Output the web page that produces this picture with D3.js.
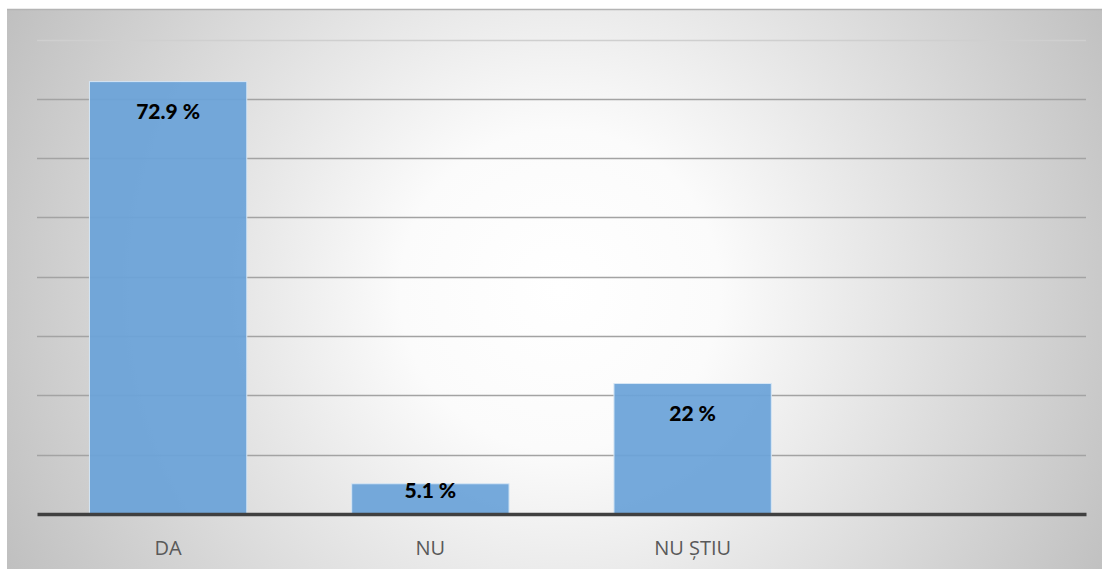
<!DOCTYPE html>
<html><head><meta charset="utf-8">
<script src="https://cdn.jsdelivr.net/npm/d3@7"></script>
<style>html,body{margin:0;padding:0;background:#fff;overflow:hidden}</style>
</head><body>
<svg id="c" width="1102" height="569"></svg>
<script>
const categories = ["DA", "NU", "NU ȘTIU", ""];
const values = [72.9, 5.1, 22, null];
const valueLabels = ["72.9 %", "5.1 %", "22 %", ""];
const yTicks = [0, 10, 20, 30, 40, 50, 60, 70, 80];

(function(){
const svg = d3.select("#c");
const defs = svg.append("defs");
const rg = defs.append("radialGradient").attr("id","bg")
  .attr("gradientUnits","userSpaceOnUse")
  .attr("cx",560).attr("cy",290).attr("r",640);
rg.append("stop").attr("offset","0%").attr("stop-color","#ffffff");
rg.append("stop").attr("offset","25%").attr("stop-color","#fbfbfb");
rg.append("stop").attr("offset","100%").attr("stop-color","#bdbdbd");

svg.append("rect").attr("x",7).attr("y",9).attr("width",1095).attr("height",560).attr("fill","url(#bg)");
svg.append("line").attr("x1",7).attr("x2",1102).attr("y1",9.5).attr("y2",9.5).attr("stroke","#b4b4b4").attr("stroke-width",1.5);

const pL = 37, pR = 1086, pT = 39.5, pB = 514;
const x = d3.scaleBand().domain(categories).range([pL, pR]).paddingInner(0.4).paddingOuter(0.2);
const y = d3.scaleLinear().domain([0, 80]).range([pB, pT]);

// gridlines
svg.append("g").selectAll("line").data(yTicks.slice(1)).join("line")
  .attr("x1", pL).attr("x2", pR)
  .attr("y1", d => Math.round(y(d)) + 0.5).attr("y2", d => Math.round(y(d)) + 0.5)
  .attr("stroke", d => d === 80 ? "#cfcfcf" : "#a3a3a3").attr("stroke-width", 1.5);

// bars
const data = categories.map((c,i)=>({c, v: values[i], l: valueLabels[i]})).filter(d => d.v != null);
svg.append("g").selectAll("rect").data(data).join("rect")
  .attr("x", d => x(d.c)).attr("width", x.bandwidth())
  .attr("y", d => y(d.v)).attr("height", d => y(0) - y(d.v))
  .attr("fill", "#6aa2d8").attr("fill-opacity", 0.93)
  .attr("stroke", "#d6e6f5").attr("stroke-width", 1);

// baseline axis
const xAxis = d3.axisBottom(x).tickSize(0).tickPadding(0);
const ax = svg.append("g").attr("transform", `translate(0,${pB})`).call(xAxis);
ax.select(".domain").attr("stroke", "#404040").attr("stroke-width", 3.5);
ax.selectAll("text").attr("dy", null).attr("y", 41)
  .attr("font-family", "'Open Sans', sans-serif").attr("font-size", 20).attr("fill", "#595959");

// value labels
svg.append("g").selectAll("text").data(data).join("text")
  .attr("x", d => x(d.c) + x.bandwidth()/2)
  .attr("y", d => Math.min(y(d.v) + 37, pB - 16))
  .attr("text-anchor", "middle")
  .attr("font-family", "Lato, 'Open Sans', sans-serif").attr("font-weight", "900")
  .attr("font-size", 21).attr("fill", "#000")
  .text(d => d.l);
})();
</script>
</body></html>
